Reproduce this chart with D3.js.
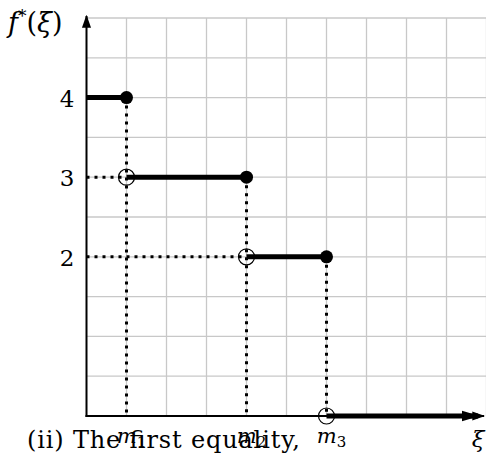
<!DOCTYPE html>
<html>
<head>
<meta charset="utf-8">
<script src="https://cdn.jsdelivr.net/npm/d3@7"></script>
<style>
body { margin: 0; background: #fff; }
text { font-family: "DejaVu Serif", "Liberation Serif", serif; fill: #000; }
</style>
</head>
<body>
<script>
// breakpoints m1, m2, m3 on the xi axis (grid units)
var breaks = [1, 4, 6];
var breakLabels = ["m1", "m2", "m3"];
// value of f* on each piece
var levels = [4, 3, 2, 0];
var yTicks = [4, 3, 2];

var width = 486, height = 455;
var x = d3.scaleLinear().domain([0, 10]).range([86.5, 486.5]);
var y = d3.scaleLinear().domain([0, 5]).range([416, 18]);

var svg = d3.select("body").append("svg")
  .attr("width", width).attr("height", height);

// grid
var grid = svg.append("g").attr("stroke", "#c8c8c8").attr("stroke-width", 1.3);
grid.selectAll("line.v").data(d3.range(1, 11)).enter().append("line")
  .attr("x1", d => x(d)).attr("x2", d => x(d)).attr("y1", y(0)).attr("y2", y(5));
grid.selectAll("line.h").data(d3.range(0.5, 5.01, 0.5)).enter().append("line")
  .attr("x1", x(0)).attr("x2", x(10)).attr("y1", d => y(d)).attr("y2", d => y(d));

// arrow heads
var defs = svg.append("defs");
defs.append("marker")
  .attr("id", "arr").attr("viewBox", "0 0 10 10")
  .attr("refX", 9).attr("refY", 5)
  .attr("markerWidth", 13).attr("markerHeight", 13)
  .attr("markerUnits", "userSpaceOnUse")
  .attr("orient", "auto")
  .append("path").attr("d", "M0,1.5 L10,5 L0,8.5 Z").attr("fill", "#000");
defs.append("marker")
  .attr("id", "arr2").attr("viewBox", "0 0 10 10")
  .attr("refX", 9).attr("refY", 5)
  .attr("markerWidth", 18).attr("markerHeight", 18)
  .attr("markerUnits", "userSpaceOnUse")
  .attr("orient", "auto")
  .append("path").attr("d", "M0,2 L10,5 L0,8 Z").attr("fill", "#000");

// dotted guide lines
var dash = svg.append("g").attr("stroke", "#000").attr("stroke-width", 3)
  .attr("stroke-dasharray", "3,5").attr("fill", "none");
breaks.forEach(function(b, i) {
  dash.append("line").attr("x1", x(b)).attr("x2", x(b))
    .attr("y1", y(levels[i])).attr("y2", y(0));
  if (i < 2) {
    dash.append("line").attr("x1", x(0)).attr("x2", x(b))
      .attr("y1", y(levels[i + 1])).attr("y2", y(levels[i + 1]));
  }
});

// axes
svg.append("line").attr("x1", x(0)).attr("x2", x(0))
  .attr("y1", y(0) + 1).attr("y2", 16)
  .attr("stroke", "#000").attr("stroke-width", 2).attr("marker-end", "url(#arr)");
svg.append("line").attr("x1", x(0) - 1).attr("x2", 484)
  .attr("y1", y(0)).attr("y2", y(0))
  .attr("stroke", "#000").attr("stroke-width", 2).attr("marker-end", "url(#arr)");

// step pieces
var starts = [0].concat(breaks);
var ends = breaks.concat([null]);
levels.forEach(function(v, i) {
  var l = svg.append("line")
    .attr("x1", x(starts[i])).attr("y1", y(v))
    .attr("x2", ends[i] == null ? 478 : x(ends[i])).attr("y2", y(v))
    .attr("stroke", "#000").attr("stroke-width", 5);
  if (ends[i] == null) l.attr("marker-end", "url(#arr2)");
});

// closed dots at right ends, open circles at left ends
breaks.forEach(function(b, i) {
  svg.append("circle").attr("cx", x(b)).attr("cy", y(levels[i])).attr("r", 6.5).attr("fill", "#000");
  svg.append("circle").attr("cx", x(b)).attr("cy", y(levels[i + 1])).attr("r", 8)
    .attr("fill", "none").attr("stroke", "#000").attr("stroke-width", 1.2);
});

// y tick labels
svg.selectAll("text.yt").data(yTicks).enter().append("text")
  .attr("x", 67).attr("y", d => y(d) + 9)
  .attr("text-anchor", "middle").attr("font-size", 23).text(d => d);

// axis titles
var t = svg.append("text").attr("x", 8).attr("y", 32).attr("font-size", 27);
t.append("tspan").attr("font-style", "italic").text("f");
t.append("tspan").attr("dy", -10).attr("font-size", 17).text("*");
t.append("tspan").attr("dy", 10).text("(");
t.append("tspan").attr("font-style", "italic").text("ξ");
t.append("tspan").text(")");

svg.append("text").attr("x", 478).attr("y", 447).attr("text-anchor", "middle")
  .attr("font-size", 23).attr("font-style", "italic").text("ξ");

// caption fragment
svg.append("text").attr("x", 27).attr("y", 448).attr("font-size", 24)
  .attr("textLength", 273).attr("lengthAdjust", "spacing")
  .text("(ii) The first equality,");

// breakpoint labels
breakLabels.forEach(function(lab, i) {
  var tt = svg.append("text").attr("x", x(breaks[i]) + 5).attr("y", 443)
    .attr("text-anchor", "middle").attr("font-size", 21);
  tt.append("tspan").attr("font-style", "italic").text(lab[0]);
  tt.append("tspan").attr("dy", 4).attr("font-size", 15).text(lab[1]);
});
</script>
</body>
</html>
